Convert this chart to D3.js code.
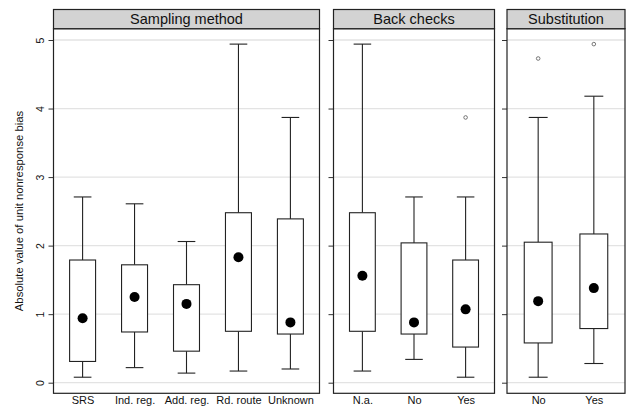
<!DOCTYPE html>
<html>
<head>
<meta charset="utf-8">
<script src="https://cdn.jsdelivr.net/npm/d3@7"></script>
<style>
  html, body { margin: 0; padding: 0; background: #fff; }
  svg { display: block; font-family: "Liberation Sans", Arial, sans-serif; }
</style>
</head>
<body>
<svg id="chart" width="626" height="409"></svg>
<script>
// Absolute unit nonresponse bias by survey design feature
const panelTitles = ["Sampling method", "Back checks", "Substitution"];

const samplingLabels = ["SRS", "Ind. reg.", "Add. reg.", "Rd. route", "Unknown"];
const samplingLow    = [0.08, 0.22, 0.14, 0.17, 0.20];
const samplingQ1     = [0.31, 0.74, 0.46, 0.75, 0.71];
const samplingQ3     = [1.79, 1.72, 1.43, 2.48, 2.39];
const samplingHigh   = [2.71, 2.61, 2.06, 4.94, 3.87];
const samplingCenter = [0.94, 1.25, 1.15, 1.83, 0.88];
const samplingOut    = [[], [], [], [], []];

const backLabels = ["N.a.", "No", "Yes"];
const backLow    = [0.17, 0.34, 0.08];
const backQ1     = [0.75, 0.71, 0.52];
const backQ3     = [2.48, 2.04, 1.79];
const backHigh   = [4.94, 2.71, 2.71];
const backCenter = [1.56, 0.88, 1.07];
const backOut    = [[], [], [3.87]];

const substLabels = ["No", "Yes"];
const substLow    = [0.08, 0.28];
const substQ1     = [0.58, 0.79];
const substQ3     = [2.05, 2.17];
const substHigh   = [3.87, 4.18];
const substCenter = [1.19, 1.38];
const substOut    = [[4.73], [4.94]];

const yTicks = [0, 1, 2, 3, 4, 5];
const yTitle = "Absolute value of unit nonresponse bias";

function rows(labels, low, q1, q3, high, center, out) {
  return labels.map((l, i) => ({ label: l, low: low[i], q1: q1[i], q3: q3[i], high: high[i], center: center[i], out: out[i] }));
}

const panels = [
  { title: panelTitles[0], x0: 53.5, x1: 319.5, rows: rows(samplingLabels, samplingLow, samplingQ1, samplingQ3, samplingHigh, samplingCenter, samplingOut) },
  { title: panelTitles[1], x0: 333.5, x1: 494.5, rows: rows(backLabels, backLow, backQ1, backQ3, backHigh, backCenter, backOut) },
  { title: panelTitles[2], x0: 507, x1: 625, rows: rows(substLabels, substLow, substQ1, substQ3, substHigh, substCenter, substOut) }
];

const stripTop = 9.5, stripBottom = 28.7, plotBottom = 393.3;
const y = d3.scaleLinear().domain([0, 5]).range([382.7, 40]);

const svg = d3.select("#chart");

// y-axis title
svg.append("text")
  .attr("transform", `translate(23,${(stripBottom + plotBottom) / 2}) rotate(-90)`)
  .attr("text-anchor", "middle")
  .attr("font-size", 11.3)
  .attr("fill", "#111")
  .text(yTitle);

panels.forEach((p, pi) => {
  const g = svg.append("g");
  const x = d3.scalePoint()
    .domain(p.rows.map(r => r.label))
    .range([p.x0, p.x1])
    .padding(0.56);
  const step = x.step();
  const boxW = step * 0.5;
  const capW = step * 0.34;

  // gridlines
  g.selectAll("line.grid").data(yTicks).join("line")
    .attr("x1", p.x0).attr("x2", p.x1)
    .attr("y1", d => y(d)).attr("y2", d => y(d))
    .attr("stroke", "#e3e3e3").attr("stroke-width", 1.3);

  // y axis ticks (labels only on first panel)
  const axis = d3.axisLeft(y).tickValues(yTicks).tickSize(5).tickPadding(3)
    .tickFormat(pi === 0 ? d3.format("d") : () => "");
  const ag = g.append("g").attr("transform", `translate(${p.x0},0)`).call(axis);
  ag.select(".domain").remove();
  ag.selectAll(".tick line").attr("stroke", "#333");
  ag.selectAll(".tick text")
    .attr("font-size", 10.5)
    .attr("fill", "#111")
    .attr("font-family", "Liberation Sans, Arial, sans-serif")
    .attr("text-anchor", "middle")
    .attr("transform", "rotate(-90)")
    .attr("x", 0)
    .attr("y", -10)
    .attr("dy", "0");

  // x axis labels
  const xa = d3.axisBottom(x).tickSize(0).tickPadding(3);
  const xg = g.append("g").attr("transform", `translate(0,${plotBottom})`).call(xa);
  xg.select(".domain").remove();
  xg.selectAll(".tick text")
    .attr("font-size", 11)
    .attr("fill", "#111")
    .attr("font-family", "Liberation Sans, Arial, sans-serif");

  const bx = g.selectAll("g.box").data(p.rows).join("g").attr("class", "box");
  const stroke = "#222";

  // whiskers
  bx.append("line")
    .attr("x1", d => x(d.label)).attr("x2", d => x(d.label))
    .attr("y1", d => y(d.q3)).attr("y2", d => y(d.high))
    .attr("stroke", stroke).attr("stroke-width", 1.1);
  bx.append("line")
    .attr("x1", d => x(d.label)).attr("x2", d => x(d.label))
    .attr("y1", d => y(d.q1)).attr("y2", d => y(d.low))
    .attr("stroke", stroke).attr("stroke-width", 1.1);
  // caps
  bx.append("line")
    .attr("x1", d => x(d.label) - capW / 2).attr("x2", d => x(d.label) + capW / 2)
    .attr("y1", d => y(d.high)).attr("y2", d => y(d.high))
    .attr("stroke", stroke).attr("stroke-width", 1.1);
  bx.append("line")
    .attr("x1", d => x(d.label) - capW / 2).attr("x2", d => x(d.label) + capW / 2)
    .attr("y1", d => y(d.low)).attr("y2", d => y(d.low))
    .attr("stroke", stroke).attr("stroke-width", 1.1);
  // box
  bx.append("rect")
    .attr("x", d => x(d.label) - boxW / 2)
    .attr("width", boxW)
    .attr("y", d => y(d.q3))
    .attr("height", d => y(d.q1) - y(d.q3))
    .attr("fill", "#fff").attr("stroke", stroke).attr("stroke-width", 1.1);
  // center marker
  bx.append("circle")
    .attr("cx", d => x(d.label)).attr("cy", d => y(d.center))
    .attr("r", 5).attr("fill", "#000");
  // outside values
  bx.selectAll("circle.out").data(d => d.out.map(v => ({ label: d.label, v }))).join("circle")
    .attr("class", "out")
    .attr("cx", d => x(d.label)).attr("cy", d => y(d.v))
    .attr("r", 1.8).attr("fill", "none").attr("stroke", "#555").attr("stroke-width", 0.8);

  // panel frame
  g.append("rect")
    .attr("x", p.x0).attr("y", stripBottom)
    .attr("width", p.x1 - p.x0).attr("height", plotBottom - stripBottom)
    .attr("fill", "none").attr("stroke", "#222").attr("stroke-width", 1.2);

  // strip header
  g.append("rect")
    .attr("x", p.x0).attr("y", stripTop)
    .attr("width", p.x1 - p.x0).attr("height", stripBottom - stripTop)
    .attr("fill", "#d3d3d3").attr("stroke", "#222").attr("stroke-width", 1.2);
  g.append("text")
    .attr("x", (p.x0 + p.x1) / 2).attr("y", stripBottom - 4.5)
    .attr("text-anchor", "middle")
    .attr("font-size", 14.5)
    .attr("fill", "#111")
    .text(p.title);
});
</script>
</body>
</html>
